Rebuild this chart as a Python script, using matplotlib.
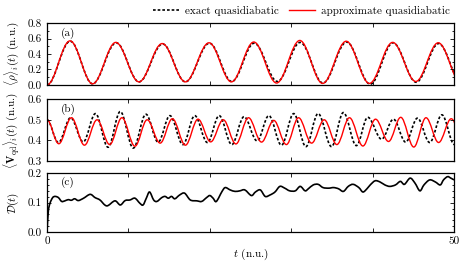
import numpy as np
import matplotlib
matplotlib.use('Agg')
import matplotlib.pyplot as plt
from matplotlib.path import Path
from matplotlib.patches import PathPatch
from matplotlib.lines import Line2D
from matplotlib.ticker import MultipleLocator, FuncFormatter

plt.rcParams['font.family'] = 'serif'
plt.rcParams['font.serif'] = ['cmr10']
plt.rcParams['mathtext.fontset'] = 'cm'
plt.rcParams['axes.formatter.use_mathtext'] = True

# (a) extrema of <rho>_i(t)
ta_exact = [0, 2.85, 5.6, 8.5, 11.3, 14.2, 17.0, 19.95, 22.7, 25.45, 28.3, 31.1, 33.9, 36.8, 39.7, 42.5, 45.35, 48.1, 50.95]
va_exact = [0, 0.565, 0.015, 0.545, 0.04, 0.53, 0.04, 0.54, 0.045, 0.54, 0.045, 0.55, 0.025, 0.555, 0.01, 0.545, 0.035, 0.535, 0.02]
ta_approx = [0, 2.83, 5.6, 8.45, 11.3, 14.15, 17.0, 19.9, 22.65, 25.4, 28.2, 31.05, 33.85, 36.75, 39.6, 42.45, 45.3, 48.05, 50.9]
va_approx = [0, 0.57, 0.015, 0.55, 0.04, 0.535, 0.04, 0.545, 0.04, 0.555, 0.025, 0.575, 0.02, 0.565, 0.02, 0.55, 0.045, 0.545, 0.02]

# (b) extrema of <V_qd>_i(t)
tb_exact = [0, 1.4, 2.9, 4.45, 5.95, 7.5, 9.0, 10.6, 12.15, 13.65, 15.1, 16.7, 18.15, 19.7, 21.15, 22.7, 24.2,
            25.8, 27.25, 28.8, 30.3, 31.8, 33.3, 34.95, 36.4, 38.0, 39.4, 41.1, 42.55, 44.05, 45.5, 47.0, 48.5, 50.05]
vb_exact = [0.5, 0.39, 0.51, 0.393, 0.53, 0.367, 0.54, 0.363, 0.527, 0.392, 0.52, 0.38, 0.52, 0.39, 0.52, 0.38, 0.515,
            0.398, 0.52, 0.377, 0.53, 0.37, 0.53, 0.37, 0.535, 0.375, 0.512, 0.406, 0.503, 0.392, 0.508, 0.39, 0.524, 0.38]
tb_approx = [0, 1.45, 3.0, 4.6, 6.15, 7.7, 9.2, 10.8, 12.3, 13.9, 15.4, 17.0, 18.55, 20.1, 21.65, 23.2, 24.75,
             26.35, 27.85, 29.4, 30.9, 32.5, 34.05, 35.6, 37.15, 38.8, 40.35, 41.95, 43.45, 45.05, 46.55, 48.1, 49.65, 51.2]
vb_approx = [0.5, 0.384, 0.51, 0.377, 0.50, 0.38, 0.51, 0.372, 0.50, 0.387, 0.505, 0.377, 0.503, 0.393, 0.50, 0.383, 0.51,
             0.392, 0.497, 0.38, 0.51, 0.387, 0.50, 0.38, 0.51, 0.373, 0.503, 0.395, 0.512, 0.368, 0.51, 0.39, 0.505, 0.39]

# (c) D(t)
tc = [0, 0.16, 0.37, 0.7, 1.0, 1.4, 1.8, 2.2, 2.6, 3.0, 3.4, 3.85, 4.5, 5.3, 5.9, 6.5, 7.1, 7.5, 8.35, 9.0, 9.6,
      10.2, 10.8, 11.4, 11.8, 12.2, 12.6, 13.1, 13.5, 14.1, 14.5, 14.9, 15.3, 15.7, 16.3, 16.9, 17.6, 18.4, 19.0,
      19.6, 20.0, 20.4, 20.8, 21.5, 21.9, 22.5, 23.1, 23.7, 24.3, 25.1, 25.6, 26.2, 26.8, 27.4, 28.0, 28.6, 29.2,
      29.8, 30.5, 31.1, 31.7, 32.1, 32.7, 33.3, 33.9, 34.6, 35.2, 35.8, 36.4, 37.0, 37.6, 38.3, 38.8, 39.3, 39.7,
      40.3, 40.9, 41.5, 42.1, 42.8, 43.4, 43.9, 44.6, 45.2, 45.8, 46.3, 47.0, 47.7, 48.3, 48.7, 49.2, 49.6, 50.0]
dc = [0, 0.07, 0.098, 0.117, 0.121, 0.117, 0.104, 0.106, 0.11, 0.108, 0.113, 0.107, 0.115, 0.128, 0.117, 0.109,
      0.092, 0.090, 0.106, 0.092, 0.107, 0.109, 0.115, 0.098, 0.092, 0.115, 0.136, 0.109, 0.104, 0.117, 0.121,
      0.115, 0.121, 0.113, 0.126, 0.132, 0.109, 0.106, 0.104, 0.117, 0.124, 0.115, 0.104, 0.138, 0.151, 0.143,
      0.138, 0.140, 0.143, 0.124, 0.136, 0.143, 0.121, 0.126, 0.136, 0.155, 0.149, 0.140, 0.140, 0.155, 0.140,
      0.147, 0.160, 0.162, 0.151, 0.149, 0.151, 0.147, 0.138, 0.155, 0.162, 0.151, 0.136, 0.147, 0.160, 0.174,
      0.170, 0.160, 0.155, 0.160, 0.172, 0.162, 0.183, 0.166, 0.140, 0.160, 0.177, 0.170, 0.160, 0.177, 0.188,
      0.183, 0.177]


def smooth_path(t, v, h=0.36):
    # smooth curve through the extrema, flat tangents at each one
    verts = [(t[0], v[0])]
    codes = [Path.MOVETO]
    for i in range(len(t) - 1):
        dt = t[i + 1] - t[i]
        verts += [(t[i] + h * dt, v[i]), (t[i + 1] - h * dt, v[i + 1]), (t[i + 1], v[i + 1])]
        codes += [Path.CURVE4] * 3
    return Path(verts, codes)


def spline_path(t, v):
    # Catmull-Rom style curve through the listed points
    p = np.column_stack([t, v])
    verts = [tuple(p[0])]
    codes = [Path.MOVETO]
    n = len(p)
    for i in range(n - 1):
        a = p[max(i - 1, 0)]
        b = p[i]
        c = p[i + 1]
        d = p[min(i + 2, n - 1)]
        verts += [tuple(b + (c - a) / 6), tuple(c - (d - b) / 6), tuple(c)]
        codes += [Path.CURVE4] * 3
    return Path(verts, codes)


dash = (0, (1.6, 1.2))
fig = plt.figure(figsize=(4.69, 2.68), dpi=100)
ax_a = fig.add_axes([0.1002, 0.683, 0.868, 0.231])
ax_b = fig.add_axes([0.1002, 0.399, 0.868, 0.231])
ax_c = fig.add_axes([0.1002, 0.134, 0.868, 0.220])

ax_a.add_patch(PathPatch(smooth_path(ta_exact, va_exact), fill=False, ec='black', lw=1.2, ls=dash))
ax_a.add_patch(PathPatch(smooth_path(ta_approx, va_approx), fill=False, ec='red', lw=1.0))
ax_b.add_patch(PathPatch(smooth_path(tb_exact, vb_exact), fill=False, ec='black', lw=1.2, ls=dash))
ax_b.add_patch(PathPatch(smooth_path(tb_approx, vb_approx), fill=False, ec='red', lw=1.0))
ax_c.add_patch(PathPatch(spline_path(tc, dc), fill=False, ec='black', lw=1.2))

ax_a.set_ylim(0, 0.8)
ax_a.yaxis.set_major_locator(MultipleLocator(0.2))
ax_a.yaxis.set_minor_locator(MultipleLocator(0.1))
ax_b.set_ylim(0.3, 0.6)
ax_b.yaxis.set_major_locator(MultipleLocator(0.1))
ax_c.set_ylim(0, 0.2)
ax_c.yaxis.set_major_locator(MultipleLocator(0.1))
ax_c.yaxis.set_minor_locator(MultipleLocator(0.02))

labels = [r'$\langle\rho\rangle_i(t)$ (n.u.)', r'$\langle\mathbf{V}_{\rm qd}\rangle_i(t)$ (n.u.)', r'$\mathcal{D}(t)$']
for ax, lab, tag in zip([ax_a, ax_b, ax_c], labels, ['(a)', '(b)', '(c)']):
    ax.set_xlim(0, 50)
    ax.xaxis.set_major_locator(MultipleLocator(10))
    ax.yaxis.set_major_formatter(FuncFormatter(lambda y, p: f'{y:.1f}'))
    ax.tick_params(which='both', direction='in', top=True, right=True, labelsize=8, width=0.6)
    ax.tick_params(which='major', length=3)
    ax.tick_params(which='minor', length=1.5)
    ax.set_ylabel(lab, fontsize=8)
    ax.yaxis.set_label_coords(-0.064, 0.5)
    ax.text(0.035, 0.84, tag, transform=ax.transAxes, fontsize=8, va='center', ha='left')
    for s in ax.spines.values():
        s.set_linewidth(0.9)

ax_a.set_xticklabels([])
ax_b.set_xticklabels([])
ax_c.xaxis.set_major_formatter(FuncFormatter(lambda x, p: f'{x:.0f}' if x in (0, 50) else ''))
ax_c.set_xlabel(r'$t$ (n.u.)', fontsize=8, labelpad=0)

handles = [Line2D([], [], color='black', lw=1.2, ls=dash), Line2D([], [], color='red', lw=1.0)]
fig.legend(handles, ['exact quasidiabatic', 'approximate quasidiabatic'], loc='center right',
           bbox_to_anchor=(0.972, 0.958), ncol=2, frameon=False, fontsize=8,
           handlelength=2.3, handletextpad=0.6, columnspacing=0.9, borderpad=0)

fig.savefig('out.png', dpi=100)
